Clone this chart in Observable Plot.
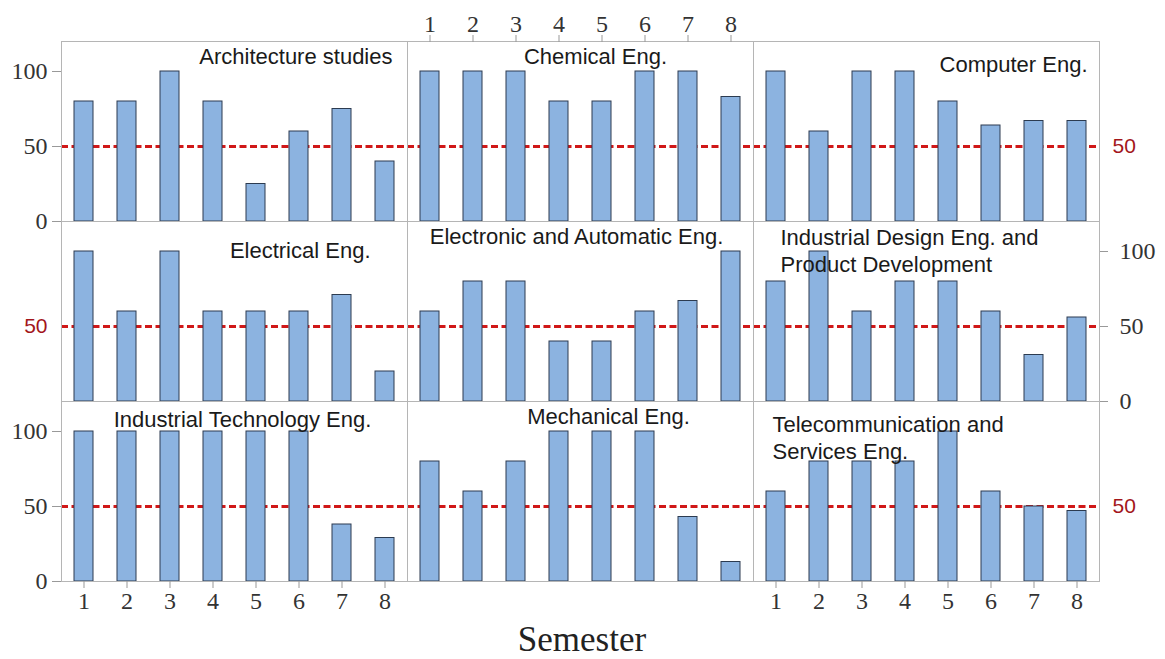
<!DOCTYPE html>
<html>
<head>
<meta charset="utf-8">
<script src="https://cdn.jsdelivr.net/npm/d3@7"></script>
<script src="https://cdn.jsdelivr.net/npm/@observablehq/plot@0.6"></script>
<style>
  body { margin: 0; background: #fff; }
  #chart { position: relative; width: 1165px; height: 659px; overflow: hidden; background: #fff; }
  #chart svg { position: absolute; overflow: visible; background: transparent; }
  #xlabel { position: absolute; left: 0; width: 1164px; top: 622px; text-align: center;
            font-family: "Liberation Serif", serif; font-size: 35px; line-height: 1; color: #222; }
</style>
</head>
<body>
<div id="chart"><div id="xlabel">Semester</div></div>
<script>
// ---- data ----
const semesters = [1, 2, 3, 4, 5, 6, 7, 8];
const programmes = [
  "Architecture studies",
  "Chemical Eng.",
  "Computer Eng.",
  "Electrical Eng.",
  "Electronic and Automatic Eng.",
  "Industrial Design Eng. and\nProduct Development",
  "Industrial Technology Eng.",
  "Mechanical Eng.",
  "Telecommunication and\nServices Eng."
];
const architecture   = [80, 80, 100, 80, 25, 60, 75, 40];
const chemical       = [100, 100, 100, 80, 80, 100, 100, 83];
const computer       = [100, 60, 100, 100, 80, 64, 67, 67];
const electrical     = [100, 60, 100, 60, 60, 60, 71, 20];
const electronic     = [60, 80, 80, 40, 40, 60, 67, 100];
const industrialDes  = [80, 100, 60, 80, 80, 60, 31, 56];
const industrialTech = [100, 100, 100, 100, 100, 100, 38, 29];
const mechanical     = [80, 60, 80, 100, 100, 100, 43, 13];
const telecom        = [60, 80, 80, 80, 100, 60, 50, 47];
const seriesList = [architecture, chemical, computer, electrical, electronic,
                    industrialDes, industrialTech, mechanical, telecom];
const yTicks = [0, 50, 100];
const threshold = [50];

// ---- layout ----
const colX = [61, 407, 753], rowY = [41, 221, 401];
const W = 346, H = 180;
const ML = 70, MR = 80, MT = 50, MB = 45;

// title placement per panel: [frameAnchor, textAnchor, dx, dy]
const titlePos = [
  ["top-right", "end", -15, 14],
  ["top", "middle", 15, 14],
  ["top-right", "end", -12, 22],
  ["top-right", "end", -37, 28],
  ["top", "middle", -4, 14],
  ["top-left", "start", 27, 28],
  ["top", "middle", 8, 17],
  ["top", "middle", 28, 14],
  ["top-left", "start", 19, 35]
];

const BAR_FILL = "#8cb3e0", BAR_STROKE = "#2c3b50";
const RED = "#d01818", RED_TEXT = "#a3161b";
const SERIF = "Liberation Serif", SANS = "Liberation Sans";
const GRID = "#b5b5b5";

const chart = document.getElementById("chart");

seriesList.forEach((values, i) => {
  const row = Math.floor(i / 3), col = i % 3;
  const data = semesters.map((s, j) => ({semester: s, value: values[j]}));
  const [fa, ta, dx, dy] = titlePos[i];
  const marks = [
    Plot.ruleY(threshold, {stroke: RED, strokeWidth: 3, strokeDasharray: "7,3.5"}),
    Plot.barY(data, {x: "semester", y: "value", fill: BAR_FILL, stroke: BAR_STROKE, strokeWidth: 1}),
    Plot.frame({stroke: GRID, strokeWidth: 1}),
    Plot.text([programmes[i]], {frameAnchor: fa, textAnchor: ta, lineAnchor: "middle", dx, dy,
      fontSize: 22, fontFamily: SANS, fill: "#1a1a1a", lineHeight: 1.22})
  ];
  // x axes
  if (row === 0 && col === 1)
    marks.push(Plot.axisX({anchor: "top", tickSize: 7, tickPadding: 3, fontSize: 24,
      fontFamily: SERIF, fill: "#333", stroke: "#999", label: null}));
  if (row === 2 && col !== 1)
    marks.push(Plot.axisX({anchor: "bottom", tickSize: 7, tickPadding: 3, fontSize: 24,
      fontFamily: SERIF, fill: "#333", stroke: "#999", label: null}));
  // y axes
  if (col === 0 && row !== 1)
    marks.push(Plot.axisY(yTicks, {anchor: "left", tickSize: 9, tickPadding: 5, fontSize: 24,
      fontFamily: SERIF, fill: "#333", stroke: "#999", label: null}));
  if (col === 0 && row === 1)
    marks.push(Plot.axisY(threshold, {anchor: "left", tickSize: 0, tickPadding: 14, fontSize: 21,
      fontFamily: SANS, fill: RED_TEXT, label: null}));
  if (col === 2 && row === 1)
    marks.push(Plot.axisY(yTicks, {anchor: "right", tickSize: 8, tickPadding: 12, fontSize: 24,
      fontFamily: SERIF, fill: "#333", stroke: "#999", label: null}));
  if (col === 2 && row !== 1)
    marks.push(Plot.axisY(threshold, {anchor: "right", tickSize: 0, tickPadding: 13, fontSize: 21,
      fontFamily: SANS, fill: RED_TEXT, label: null}));

  const svg = Plot.plot({
    width: W + ML + MR,
    height: H + MT + MB,
    marginLeft: ML, marginRight: MR, marginTop: MT, marginBottom: MB,
    x: {type: "band", domain: semesters, paddingInner: 0.56, paddingOuter: 0.28, axis: null},
    y: {domain: [0, 120], axis: null},
    style: {background: "transparent", overflow: "visible"},
    marks
  });
  svg.style.left = (colX[col] - ML) + "px";
  svg.style.top = (rowY[row] - MT) + "px";
  chart.appendChild(svg);
});
</script>
</body>
</html>
